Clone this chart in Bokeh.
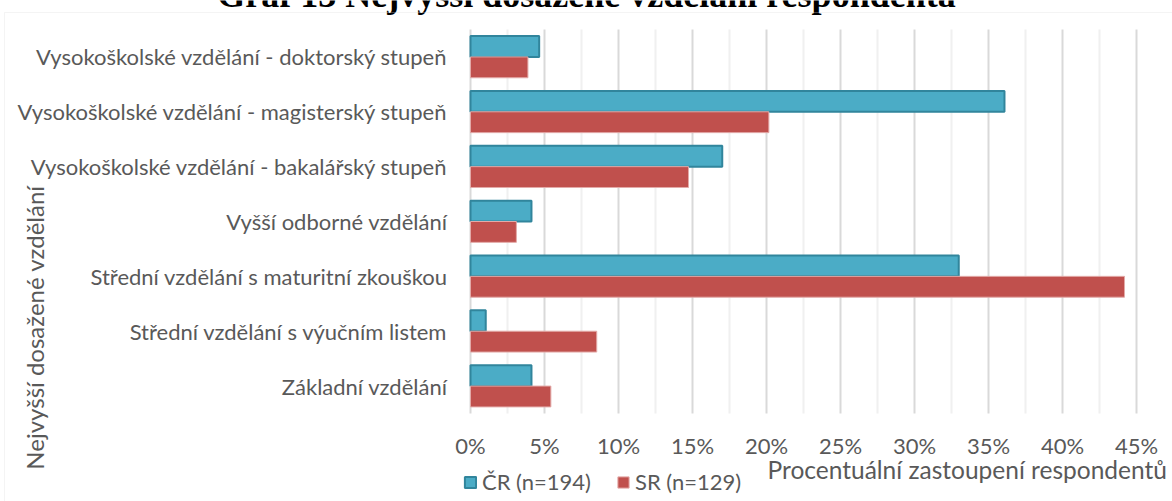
import math
from bokeh.plotting import figure
from bokeh.models import (ColumnDataSource, Range1d, Legend, LegendItem, Label, BoxAnnotation)
from bokeh.embed import file_html
from bokeh.resources import INLINE
from bokeh.core.properties import value

# ---------------- data ----------------
categories = [
    "Vysokoškolské vzdělání - doktorský stupeň",
    "Vysokoškolské vzdělání - magisterský stupeň",
    "Vysokoškolské vzdělání - bakalářský stupeň",
    "Vyšší odborné vzdělání",
    "Střední vzdělání s maturitní zkouškou",
    "Střední vzdělání s výučním listem",
    "Základní vzdělání",
]
cr_values = [4.64, 36.08, 17.01, 4.12, 32.99, 1.03, 4.12]   # % ČR
sr_values = [3.88, 20.16, 14.73, 3.10, 44.19, 8.53, 5.43]   # % SR
series_names = ["ČR (n=194)", "SR (n=129)"]
x_ticks = [0, 5, 10, 15, 20, 25, 30, 35, 40, 45]
x_tick_labels = ["0%", "5%", "10%", "15%", "20%", "25%", "30%", "35%", "40%", "45%"]
title_text = "Graf 13 Nejvyšší dosažené vzdělání respondenta"
x_title = "Procentuální zastoupení respondentů"
y_title = "Nejvyšší dosažené vzdělání"

# ---------------- layout / styles ----------------
FONT = "Lato"
TXT = "#595959"
CR_FILL, CR_LINE = "#4bacc6", "#31859c"
SR_FILL, SR_LINE = "#c0504d", "#e3aaa8"
W, H = 1172, 501
PLOT_L, PLOT_R, PLOT_T, PLOT_B = 470, 1136, 29, 413   # plot area in canvas px
n = len(categories)
XMAX = x_ticks[-1]
px_x = (PLOT_R - PLOT_L) / XMAX
px_y = (PLOT_B - PLOT_T) / n

def cx(px):   # canvas px -> data x
    return (px - PLOT_L) / px_x

def cy(py):   # canvas px -> data y
    return (PLOT_B - py) / px_y

x_range = Range1d(cx(0), cx(W))
y_range = Range1d(cy(H), cy(0))

p = figure(width=W, height=H, output_backend="svg", toolbar_location=None,
           x_range=x_range, y_range=y_range, x_axis_location=None, y_axis_location=None,
           min_border=0, min_border_left=0, min_border_right=0,
           min_border_top=0, min_border_bottom=0)
p.outline_line_color = None
p.background_fill_color = "white"
p.border_fill_color = "white"
p.grid.visible = False

# category centres: first category at the top
centres = [n - 1 - i + 0.5 for i in range(n)]
BAR_H = 0.38
source = ColumnDataSource(dict(
    cat=categories, cr=cr_values, sr=sr_values,
    y_cr=[c + BAR_H / 2 for c in centres], y_sr=[c - BAR_H / 2 for c in centres],
    y_c=centres, x0=[0] * n))

# gridlines (minor then major)
minor = [t + (x_ticks[1] - x_ticks[0]) / 2 for t in x_ticks[:-1]]
p.segment(x0=minor, x1=minor, y0=[0] * len(minor), y1=[n] * len(minor),
          line_color="#f0f0f0", line_width=2)
p.segment(x0=x_ticks, x1=x_ticks, y0=[0] * len(x_ticks), y1=[n] * len(x_ticks),
          line_color="#d9d9d9", line_width=2)

r_cr = p.hbar(y="y_cr", right="cr", left=0, height=BAR_H, source=source,
              fill_color=CR_FILL, line_color=CR_LINE, line_width=2)
r_sr = p.hbar(y="y_sr", right="sr", left=0, height=BAR_H, source=source,
              fill_color=SR_FILL, line_color=SR_LINE, line_width=1)

# category labels (y axis)
p.text(x="x0", y="y_c", text="cat", source=source, x_offset=-23,
       text_align="right", text_baseline="middle",
       text_font=value(FONT), text_font_size="22px", text_color=TXT)

# x tick labels
p.text(x=x_ticks, y=[cy(445)] * len(x_ticks), text=x_tick_labels,
       text_align="center", text_baseline="middle",
       text_font=value(FONT), text_font_size="22px", text_color=TXT)

# legend
legend = Legend(items=[LegendItem(label=series_names[0], renderers=[r_cr]),
                       LegendItem(label=series_names[1], renderers=[r_sr])],
                orientation="horizontal", location=(463, 6),
                border_line_color=None, background_fill_alpha=0,
                padding=0, margin=0, spacing=25, label_standoff=5,
                glyph_width=14, glyph_height=14,
                label_text_font=FONT, label_text_font_size="22px", label_text_color=TXT)
p.add_layout(legend)

# axis titles and chart title
p.add_layout(Label(x=cx(767), y=cy(469), text=x_title, text_font=FONT,
                   text_font_size="24.5px", text_color=TXT, text_align="left",
                   text_baseline="alphabetic"))
p.add_layout(Label(x=cx(34), y=cy(327), text=y_title, text_font=FONT,
                   text_font_size="24px", text_color=TXT, text_align="center",
                   text_baseline="middle", angle=math.pi / 2))
p.add_layout(Label(x=cx(586), y=cy(-6), text=title_text, text_font="Liberation Serif",
                   text_font_style="bold", text_font_size="36px", text_color="black",
                   text_align="center", text_baseline="alphabetic"))

# chart-area border
p.add_layout(BoxAnnotation(left=cx(4), top=cy(12), fill_alpha=0,
                           line_color="#d9d9d9", line_width=1))

open("out.html", "w").write(file_html(p, INLINE))
